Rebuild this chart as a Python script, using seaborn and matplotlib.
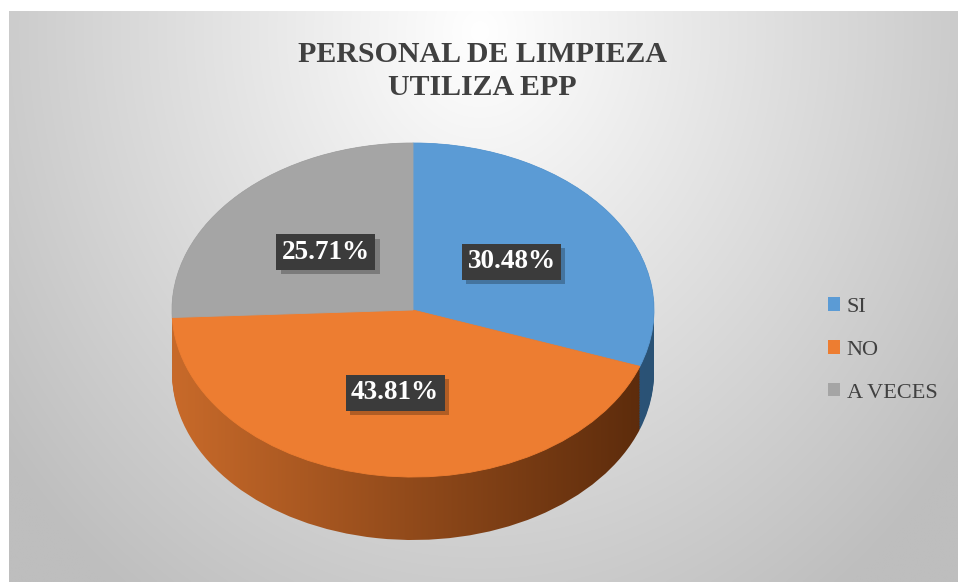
import numpy as np
import matplotlib
matplotlib.use('Agg')
import matplotlib.pyplot as plt
import matplotlib.patheffects as pe
import seaborn as sns
from matplotlib.colors import to_rgb
from matplotlib.patches import Patch

# ---- data ----
categories = ['SI', 'NO', 'A VECES']
counts = [32, 46, 27]          # 30.48 %, 43.81 %, 25.71 %
top_colors = ['#5B9BD5', '#ED7D31', '#A5A5A5']
side_left = ['#3F77AA', '#C86A2A', '#808080']
side_right = ['#2A5275', '#5A2A0B', '#5A5A5A']
title = 'PERSONAL DE LIMPIEZA\nUTILIZA EPP'

sns.set_theme(style='white')
plt.rcParams['font.family'] = ['Liberation Serif', 'DejaVu Serif']
SERIF = ['Liberation Serif', 'DejaVu Serif']

W, H = 958, 582
fig = plt.figure(figsize=(W / 100, H / 100), dpi=100)
fig.patch.set_facecolor('white')

# ---- background (radial gradient chart area) ----
bg = fig.add_axes([9 / W, 0, (W - 9) / W, (H - 11) / H])
fw, fh = W - 9, H - 11
ny, nx = 300, 500
yy, xx = np.mgrid[0:1:ny * 1j, 0:1:nx * 1j]
dx = (xx * fw - (480 - 9)) / 480
dy = (yy * fh - 20) / 560
r = np.sqrt(dx ** 2 + dy ** 2)
g = np.clip(255 - 52 * r, 190, 255) / 255
bg.imshow(np.dstack([g, g, g]), aspect='auto', interpolation='bilinear')
bg.set_axis_off()

# ---- 3D pie ----
depth = 0.377
ax = fig.add_axes([172 / W, (H - 540) / H, 482 / W, 397 / H])
ax.set_facecolor('none')

gx = np.linspace(0, 1, 256)
side_imgs = []
for cl, cr in zip(side_left, side_right):
    a = np.array(to_rgb(cl))
    b = np.array(to_rgb(cr))
    img = a[None, None, :] * (1 - gx[None, :, None]) + b[None, None, :] * gx[None, :, None]
    side_imgs.append(img)

n_layers = 40
for k in np.linspace(depth, 0.0, n_layers):
    wedges, _ = ax.pie(counts, colors=top_colors, startangle=90, counterclock=False,
                       center=(0, -k), radius=1, wedgeprops=dict(linewidth=0))
    for w, img in zip(wedges, side_imgs):
        w.set_facecolor('none')
        im = ax.imshow(img, extent=[-1, 1, -1 - depth, 1], aspect='auto',
                       interpolation='bilinear', zorder=1)
        im.set_clip_path(w)

wedges, texts, autotexts = ax.pie(counts, colors=top_colors, startangle=90,
                                  counterclock=False, autopct='%.2f%%',
                                  pctdistance=0.5, wedgeprops=dict(linewidth=0.6))
for w in wedges:
    w.set_edgecolor(w.get_facecolor())
    w.set_zorder(5)

for t in autotexts:
    t.set_color('white')
    t.set_fontweight('bold')
    t.set_fontsize(19.5)
    t.set_family(SERIF)
    t.set_zorder(7)
    t.set_bbox(dict(boxstyle='square,pad=0.2', fc='#3B3B3B', ec='none'))
    t.get_bbox_patch().set_path_effects([
        pe.SimplePatchShadow(offset=(3, -3), shadow_rgbFace='black', alpha=0.25),
        pe.Normal()])

ax.set_aspect('auto')
ax.set_xlim(-1, 1)
ax.set_ylim(-1 - depth, 1)
ax.set_axis_off()

# ---- title ----
fig.text(482 / W, (H - 71) / H, title, ha='center', va='center', fontsize=21.5,
         fontweight='bold', color='#404040', linespacing=1.25, family=SERIF)

# ---- legend ----
handles = [Patch(facecolor=c, edgecolor='none') for c in top_colors]
leg = fig.legend(handles, categories, loc='center left',
                 bbox_to_anchor=(808 / W, (H - 350) / H), frameon=False,
                 prop={'family': SERIF, 'size': 16},
                 labelcolor='#404040', handlelength=0.54, handleheight=0.54,
                 handletextpad=0.3, labelspacing=1.05)

fig.savefig('out.png', dpi=100)
